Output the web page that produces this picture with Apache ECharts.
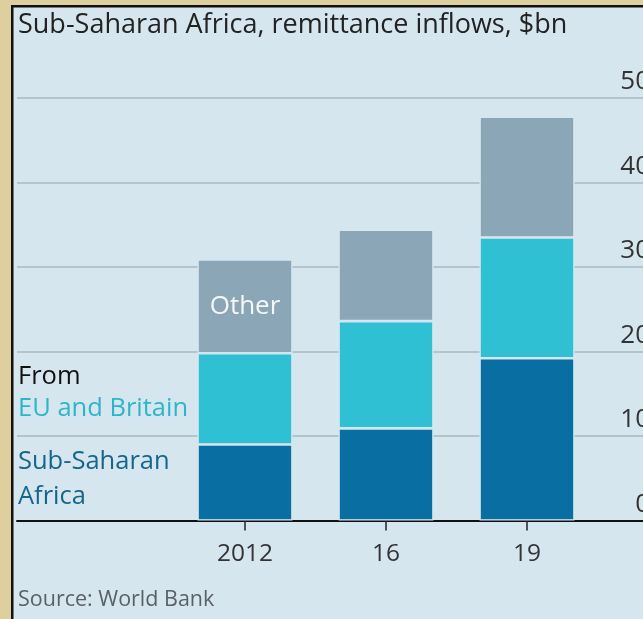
<!DOCTYPE html>
<html>
<head>
<meta charset="utf-8">
<script src="https://cdn.jsdelivr.net/npm/echarts@6/dist/echarts.min.js"></script>
<style>
html,body{margin:0;padding:0;background:#ddd09e;}
#c{width:643px;height:619px;}
</style>
</head>
<body>
<div id="c"></div>
<script>
const categories = ['2012', '16', '19'];
const fromSSA = [9.0, 10.9, 19.2];
const fromEU = [10.8, 12.7, 14.3];
const fromOther = [11.1, 10.8, 14.3];
const yTicks = [0, 10, 20, 30, 40, 50];

const FONT = 'Open Sans';
const BG = '#d6e6ef';
const chart = echarts.init(document.getElementById('c'), null, {renderer: 'canvas'});

const barBase = {
  type: 'bar', stack: 'total', xAxisIndex: 0, yAxisIndex: 0, barWidth: 95,
  itemStyle: {borderColor: BG, borderWidth: 1.3},
  emphasis: {disabled: true}
};

chart.setOption({
  backgroundColor: '#ddd09e',
  animation: false,
  graphic: [
    {type: 'rect', left: 11, top: 5, shape: {width: 640, height: 620},
     style: {fill: BG, stroke: '#111', lineWidth: 2.5}, z: -10},
    {type: 'text', left: 18, top: 12, style: {text: 'Sub-Saharan Africa, remittance inflows, $bn', font: '27px "' + FONT + '"', fill: '#222'}},
    {type: 'text', left: 18, top: 364, style: {text: 'From', font: '25.5px "' + FONT + '"', fill: '#111'}},
    {type: 'text', left: 18, top: 396, style: {text: 'EU and Britain', font: '25.5px "' + FONT + '"', fill: '#2bb6cc'}},
    {type: 'text', left: 18, top: 444, style: {text: 'Sub-Saharan\nAfrica', font: '25.5px "' + FONT + '"', lineHeight: 35, fill: '#15668f'}},
    {type: 'text', left: 18, top: 589, style: {text: 'Source: World Bank', font: '21.5px "' + FONT + '"', fill: '#5a6166'}}
  ],
  grid: [
    {left: 174.5, width: 423, top: 98, bottom: 98.5, outerBoundsMode: 'none'},
    {left: 17, right: -9, top: 98, bottom: 98.5, outerBoundsMode: 'none'}
  ],
  xAxis: [
    {type: 'category', gridIndex: 0, data: categories,
     axisLine: {show: false},
     axisTick: {show: true, alignWithLabel: true, length: 10, lineStyle: {color: '#222', width: 1.5}},
     axisLabel: {color: '#333', fontFamily: FONT, fontSize: 24.5, margin: 21}},
    {type: 'value', gridIndex: 1, min: 0, max: 1, show: true,
     axisLine: {show: true, onZero: false, lineStyle: {color: '#111', width: 2}},
     axisTick: {show: false}, axisLabel: {show: false}, splitLine: {show: false}}
  ],
  yAxis: [
    {type: 'value', gridIndex: 0, min: 0, max: 50, interval: 10, show: false},
    {type: 'value', gridIndex: 1, min: 0, max: 50, interval: 10, position: 'right',
     axisLine: {show: false}, axisTick: {show: false},
     splitLine: {show: true, lineStyle: {color: '#a8b7c0', width: 1.5}},
     axisLabel: {inside: true, margin: 2, color: '#333', fontFamily: FONT, fontSize: 26,
       verticalAlign: 'bottom', padding: [0, 0, 3, 0],
       formatter: v => yTicks.includes(v) ? String(v) : ''}}
  ],
  series: [
    Object.assign({}, barBase, {name: 'Sub-Saharan Africa', data: fromSSA, itemStyle: Object.assign({}, barBase.itemStyle, {color: '#096ea1'})}),
    Object.assign({}, barBase, {name: 'EU and Britain', data: fromEU, itemStyle: Object.assign({}, barBase.itemStyle, {color: '#2fc0d4'})}),
    Object.assign({}, barBase, {name: 'Other', data: fromOther, itemStyle: Object.assign({}, barBase.itemStyle, {color: '#8ba7b7'}),
      label: {show: true, position: 'inside', color: '#f4f8fa', fontFamily: FONT, fontSize: 26,
        formatter: p => p.dataIndex === 0 ? 'Other' : ''}})
  ]
});
</script>
</body>
</html>
